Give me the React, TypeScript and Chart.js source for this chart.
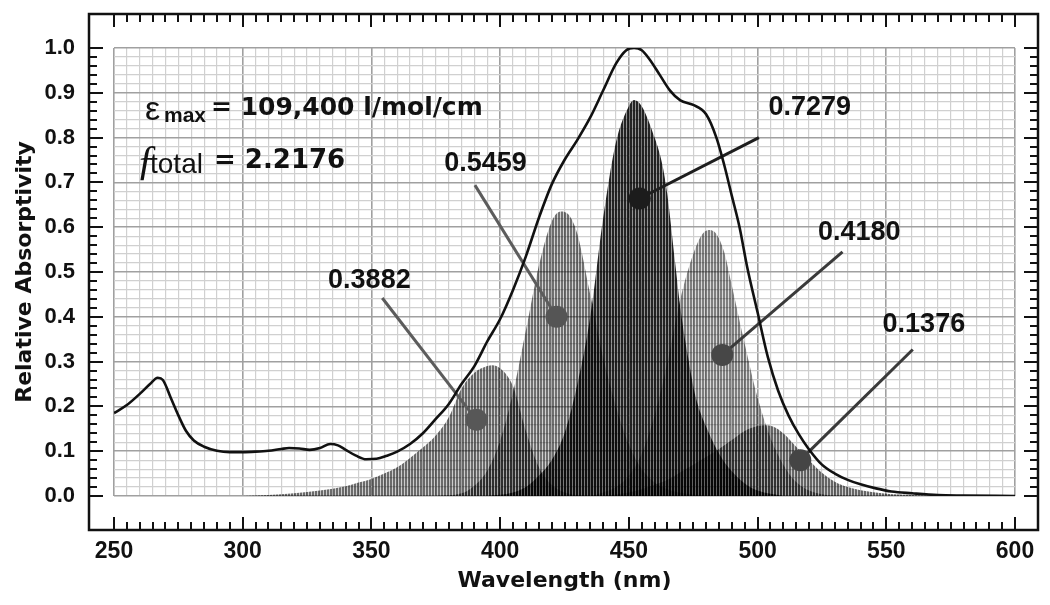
import React, { useEffect, useRef } from 'react';
import { Chart, registerables } from 'chart.js';

Chart.register(...registerables);

// Measured absorption spectrum (relative absorptivity vs wavelength, nm)
const spectrumX = [250,255,260,264,267,269,272,275,278,281,285,290,295,300,305,310,315,318,322,326,330,334,337,340,344,348,352,356,360,365,370,375,380,385,390,395,400,405,410,415,420,425,430,435,440,445,449,452,455,458,462,466,470,475,480,484,487,490,493,496,500,504,508,512,516,520,525,530,535,540,546,552,560,570,580,600];
const spectrumY = [0.185,0.203,0.228,0.25,0.264,0.259,0.22,0.18,0.145,0.124,0.11,0.101,0.098,0.098,0.099,0.101,0.105,0.107,0.106,0.103,0.107,0.116,0.113,0.103,0.09,0.082,0.083,0.09,0.099,0.116,0.14,0.172,0.205,0.25,0.29,0.345,0.395,0.46,0.535,0.62,0.695,0.75,0.795,0.845,0.905,0.965,0.995,1.0,0.995,0.975,0.94,0.905,0.883,0.873,0.852,0.8,0.74,0.67,0.6,0.51,0.41,0.31,0.235,0.18,0.138,0.104,0.07,0.05,0.036,0.026,0.017,0.01,0.006,0.002,0.001,0.0];

// Gaussian component bands
const band1X = [300,310,320,330,340,345,350,355,360,365,370,375,380,385,390,395,397,400,405,410,415,420,425,430,440];
const band1Y = [0,0.002,0.006,0.012,0.022,0.03,0.038,0.05,0.064,0.085,0.108,0.135,0.175,0.24,0.275,0.29,0.292,0.285,0.245,0.145,0.065,0.025,0.008,0.002,0];
const band2X = [375,385,390,395,400,405,410,415,420,423.5,427,430,435,440,445,450,455,460,465,470,480];
const band2Y = [0,0.006,0.023,0.057,0.124,0.231,0.37,0.513,0.612,0.635,0.625,0.585,0.45,0.31,0.2,0.115,0.06,0.03,0.015,0.007,0];
const band3X = [395,405,410,415,420,425,430,435,440,445,450,452,455,460,463,465,468,470,473,476,480,485,490,495,500,510];
const band3Y = [0,0.008,0.02,0.045,0.08,0.14,0.25,0.4,0.62,0.79,0.87,0.884,0.87,0.8,0.74,0.67,0.52,0.42,0.31,0.22,0.155,0.095,0.055,0.028,0.012,0];
const band4X = [435,440,445,450,455,460,465,470,475,478,481,484,487,490,495,500,505,510,515,520,525,530,540];
const band4Y = [0,0.008,0.02,0.045,0.095,0.18,0.3,0.44,0.54,0.58,0.594,0.585,0.545,0.47,0.34,0.22,0.13,0.07,0.031,0.012,0.004,0.001,0];
const band5X = [440,450,455,460,465,470,475,480,485,490,495,500,503,506,510,515,520,525,530,535,540,550,560,570];
const band5Y = [0,0.008,0.015,0.025,0.036,0.053,0.07,0.087,0.105,0.125,0.145,0.156,0.158,0.155,0.14,0.11,0.08,0.052,0.032,0.02,0.013,0.005,0.002,0];

// Oscillator strength labels, their marker points, leader-line ends and label anchors
const bandLabels = ['0.3882', '0.5459', '0.7279', '0.4180', '0.1376'];
const markerX = [390.8, 421.9, 454.2, 486.3, 516.6];
const markerY = [0.17, 0.4, 0.664, 0.315, 0.08];
const leaderX = [354.2, 390.2, 500.5, 533.0, 560.3];
const leaderY = [0.442, 0.694, 0.8, 0.545, 0.327];
const labelX = [349.2, 394.3, 520.3, 539.5, 564.6];
const labelY = [0.482, 0.743, 0.868, 0.587, 0.382];

// Axis ranges and tick steps
const xRange = [250, 600];
const yRange = [0, 1];
const xStep = 5;
const xMajor = 50;
const yStep = 0.02;

const epsilonText = '109,400 l/mol/cm';
const fTotalText = '2.2176';

// Styles (not data)
const bandStripes = [[0.58, 0.2], [0.56, 0.18], [0.86, 0.42], [0.5, 0.15], [0.6, 0.22]];
const markerColors = ['#575757', '#555555', '#1c1c1c', '#474747', '#454545'];
const leaderColors = ['#5c5c5c', '#5c5c5c', '#1e1e1e', '#3a3a3a', '#3a3a3a'];

function stripes(dark: number, light: number) {
  const c = document.createElement('canvas');
  c.width = 3;
  c.height = 4;
  const g = c.getContext('2d') as CanvasRenderingContext2D;
  g.fillStyle = `rgba(0,0,0,${dark})`;
  g.fillRect(0, 0, 2, 4);
  g.fillStyle = `rgba(0,0,0,${light})`;
  g.fillRect(2, 0, 1, 4);
  return g.createPattern(c, 'repeat') as CanvasPattern;
}

const isMajorY = (v: number) => Math.abs(v * 10 - Math.round(v * 10)) < 1e-6;
const isMajorX = (v: number) => Math.abs(v / xMajor - Math.round(v / xMajor)) < 1e-6;

const framePlugin = {
  id: 'frameTicks',
  afterDraw(chart: any) {
    const { ctx, chartArea: a, scales } = chart;
    const xs = scales.x;
    const ys = scales.y;
    const L = a.left - 25;
    const R = a.right + 23;
    const T = a.top - 34;
    const B = a.bottom + 34;
    ctx.save();
    ctx.strokeStyle = '#111';
    ctx.lineWidth = 2.5;
    ctx.strokeRect(L, T, R - L, B - T);
    ctx.lineWidth = 2;
    ctx.beginPath();
    xs.ticks.forEach((t: any) => {
      const p = Math.round(xs.getPixelForValue(t.value));
      const len = isMajorX(t.value) ? 13 : 8;
      ctx.moveTo(p, B);
      ctx.lineTo(p, B - len);
      ctx.moveTo(p, T);
      ctx.lineTo(p, T + len);
    });
    ys.ticks.forEach((t: any) => {
      const p = Math.round(ys.getPixelForValue(t.value));
      const len = isMajorY(t.value) ? 14 : 8;
      ctx.moveTo(L, p);
      ctx.lineTo(L + len, p);
      ctx.moveTo(R, p);
      ctx.lineTo(R - len, p);
    });
    ctx.stroke();
    ctx.restore();
  },
};

const annotationPlugin = {
  id: 'bandAnnotations',
  afterDatasetsDraw(chart: any) {
    const { ctx, chartArea: a, scales } = chart;
    const xs = scales.x;
    const ys = scales.y;
    ctx.save();
    ctx.fillStyle = '#111';
    ctx.textAlign = 'center';
    ctx.textBaseline = 'middle';
    ctx.font = 'bold 27px "Liberation Sans", Arial, sans-serif';
    bandLabels.forEach((t, i) => {
      ctx.fillText(t, xs.getPixelForValue(labelX[i]), ys.getPixelForValue(labelY[i]));
    });

    ctx.textAlign = 'left';
    ctx.textBaseline = 'alphabetic';
    const x0 = a.left;
    const y0 = a.top;
    // epsilon line
    ctx.font = '34px "Liberation Sans", Arial, sans-serif';
    ctx.fillText('ε', x0 + 31, y0 + 72);
    ctx.font = 'bold 21px "Liberation Sans", Arial, sans-serif';
    ctx.fillText('max', x0 + 50, y0 + 74);
    ctx.font = 'bold 25px "DejaVu Sans", sans-serif';
    ctx.fillText('= ' + epsilonText, x0 + 97, y0 + 67);
    // f total line
    ctx.font = 'italic 42px "Liberation Serif", serif';
    ctx.fillText('ƒ', x0 + 22, y0 + 126);
    ctx.font = '28px "Liberation Sans", Arial, sans-serif';
    ctx.fillText('total', x0 + 36, y0 + 125);
    ctx.font = 'bold 26px "DejaVu Sans", sans-serif';
    ctx.fillText('= ' + fTotalText, x0 + 100, y0 + 120);
    ctx.restore();
  },
};

export default function App() {
  const ref = useRef<HTMLCanvasElement | null>(null);

  useEffect(() => {
    if (!ref.current) return;
    const toPts = (xs: number[], ys: number[]) => xs.map((x, i) => ({ x, y: ys[i] }));
    const bandsX = [band1X, band2X, band3X, band4X, band5X];
    const bandsY = [band1Y, band2Y, band3Y, band4Y, band5Y];

    const bandSets = bandsX.map((bx, i) => ({
      label: 'f = ' + bandLabels[i],
      data: toPts(bx, bandsY[i]),
      borderWidth: 0,
      borderColor: 'rgba(0,0,0,0)',
      backgroundColor: stripes(bandStripes[i][0], bandStripes[i][1]),
      fill: 'origin',
      pointRadius: 0,
      cubicInterpolationMode: 'monotone',
      order: 3,
    }));

    const leaderSets = leaderX.map((lx, i) => ({
      label: 'leader ' + bandLabels[i],
      data: [{ x: lx, y: leaderY[i] }, { x: markerX[i], y: markerY[i] }],
      borderColor: leaderColors[i],
      borderWidth: 3,
      pointRadius: 0,
      fill: false,
      tension: 0,
      order: 2,
    }));

    const chart = new Chart(ref.current, {
      type: 'line',
      data: {
        datasets: [
          {
            label: 'markers',
            data: toPts(markerX, markerY),
            showLine: false,
            pointRadius: 11,
            pointBackgroundColor: markerColors,
            pointBorderWidth: 0,
            pointBorderColor: 'rgba(0,0,0,0)',
            order: 0,
          },
          {
            label: 'spectrum',
            data: toPts(spectrumX, spectrumY),
            borderColor: '#111',
            borderWidth: 2.6,
            pointRadius: 0,
            fill: false,
            cubicInterpolationMode: 'monotone',
            order: 1,
          },
          ...leaderSets,
          ...bandSets,
        ] as any,
      },
      options: {
        responsive: false,
        animation: false,
        devicePixelRatio: 1,
        layout: { padding: { left: 0, top: 48, right: 35, bottom: 0 } },
        plugins: {
          legend: { display: false },
          tooltip: { enabled: false },
        },
        scales: {
          x: {
            type: 'linear',
            min: xRange[0],
            max: xRange[1],
            afterFit: (s: any) => {
              s.height = 109;
              s.paddingLeft = 0;
              s.paddingRight = 0;
            },
            border: { display: false },
            grid: {
              drawTicks: false,
              color: (c: any) => (c.tick && isMajorX(c.tick.value) ? '#a0a0a0' : '#d0d0d0'),
              lineWidth: (c: any) => (c.tick && isMajorX(c.tick.value) ? 1.6 : 1.2),
            },
            ticks: {
              stepSize: xStep,
              autoSkip: false,
              maxRotation: 0,
              minRotation: 0,
              padding: 42,
              color: '#111',
              font: { family: '"Liberation Sans", Arial, sans-serif', size: 23, weight: 'bold' },
              callback: (v: any) => (isMajorX(Number(v)) ? String(v) : ''),
            },
            title: {
              display: true,
              text: 'Wavelength (nm)',
              color: '#111',
              font: { family: '"DejaVu Sans", sans-serif', size: 22, weight: 'bold' },
              padding: { top: 0, bottom: 11 },
            },
          },
          y: {
            type: 'linear',
            min: yRange[0],
            max: yRange[1],
            afterFit: (s: any) => {
              s.width = 114;
              s.paddingTop = 0;
              s.paddingBottom = 0;
            },
            border: { display: false },
            grid: {
              drawTicks: false,
              color: (c: any) => (c.tick && isMajorY(c.tick.value) ? '#a0a0a0' : '#d0d0d0'),
              lineWidth: (c: any) => (c.tick && isMajorY(c.tick.value) ? 1.6 : 1.2),
            },
            ticks: {
              stepSize: yStep,
              autoSkip: false,
              padding: 39,
              color: '#111',
              font: { family: '"Liberation Sans", Arial, sans-serif', size: 22, weight: 'bold' },
              callback: (v: any) => (isMajorY(Number(v)) ? Number(v).toFixed(1) : ''),
            },
            title: {
              display: true,
              text: 'Relative Absorptivity',
              color: '#111',
              font: { family: '"DejaVu Sans", sans-serif', size: 22, weight: 'bold' },
              padding: { top: 12, bottom: 0 },
            },
          },
        },
      } as any,
      plugins: [framePlugin, annotationPlugin],
    });

    return () => chart.destroy();
  }, []);

  return (
    <div style={{ position: 'fixed', left: 0, top: 0, width: 1050, height: 605, background: '#fff' }}>
      <canvas ref={ref} width={1050} height={605} style={{ display: 'block' }} />
    </div>
  );
}
